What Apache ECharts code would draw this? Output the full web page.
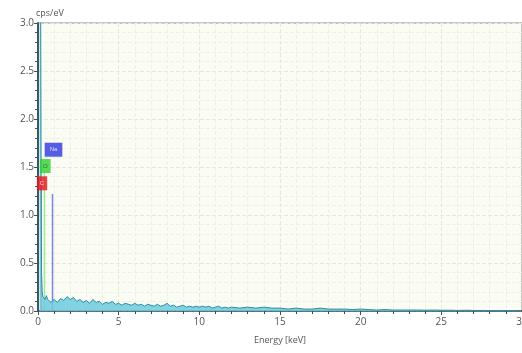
<!DOCTYPE html>
<html>
<head>
<meta charset="utf-8">
<script src="https://cdn.jsdelivr.net/npm/echarts@6/dist/echarts.min.js"></script>
<style>
  html, body { margin: 0; padding: 0; background: #fff; }
  #chart { width: 522px; height: 353px; }
</style>
</head>
<body>
<div id="chart"></div>
<script>
// spectrum channels (keV) and counts (cps/eV)
var energy = [
  0.10, 0.13, 0.16, 0.19, 0.22, 0.26, 0.30, 0.36, 0.44, 0.52, 0.60, 0.70, 0.80, 0.90, 1.00, 1.04, 1.10,
  1.2, 1.4, 1.6, 1.8, 2.0, 2.2, 2.4, 2.6, 2.8, 3.0, 3.2, 3.4, 3.6, 3.8, 4.0, 4.2, 4.4, 4.6, 4.8, 5.0,
  5.2, 5.4, 5.6, 5.8, 6.0, 6.2, 6.4, 6.6, 6.8, 7.0, 7.2, 7.4, 7.6, 7.8, 8.0, 8.2, 8.4, 8.6, 8.8, 9.0,
  9.2, 9.4, 9.6, 9.8, 10.0, 10.2, 10.4, 10.6, 10.8, 11.0, 11.2, 11.4, 11.6, 11.8, 12.0,
  12.5, 13, 13.5, 14, 14.5, 15, 15.5, 16, 16.5, 17, 17.5, 18, 18.5, 19, 19.5, 20,
  20.5, 21, 21.5, 22, 22.5, 23, 23.5, 24, 24.5, 25, 25.5, 26, 26.5, 27, 27.5, 28, 28.5, 29, 29.5, 29.8
];
var cps = [
  3.4, 3.6, 3.5, 1.6, 0.4, 0.2, 0.15, 0.13, 0.12, 0.16, 0.12, 0.1, 0.09, 0.1, 0.12, 0.14, 0.1,
  0.09, 0.13, 0.11, 0.15, 0.12, 0.14, 0.1, 0.12, 0.09, 0.11, 0.08, 0.12, 0.09, 0.1, 0.07, 0.09, 0.08, 0.1, 0.07, 0.08,
  0.06, 0.08, 0.07, 0.06, 0.08, 0.06, 0.07, 0.05, 0.07, 0.06, 0.05, 0.07, 0.05, 0.06, 0.08, 0.05, 0.06, 0.04, 0.05, 0.06,
  0.04, 0.05, 0.04, 0.05, 0.04, 0.05, 0.04, 0.05, 0.03, 0.04, 0.05, 0.03, 0.04, 0.03, 0.04,
  0.03, 0.04, 0.03, 0.04, 0.03, 0.03, 0.02, 0.03, 0.02, 0.02, 0.03, 0.02, 0.02, 0.02, 0.015, 0.02,
  0.015, 0.01, 0.015, 0.01, 0.01, 0.01, 0.01, 0.008, 0.01, 0.008, 0.008, 0.006, 0.008, 0.006, 0.006, 0.005, 0.005, 0.005, 0.004, 0.004
];

// element markers
var elements = ['C', 'O', 'Na'];
var elementEnergy = [0.2, 0.4, 0.9];
var elementHeight = [1.28, 1.45, 1.22];
var elementLabelX = [0.25, 0.45, 0.96];
var elementLabelY = [1.33, 1.51, 1.68];
var elementColor = ['#e8141b', '#2ed12e', '#2a34e0'];

var spectrum = [];
for (var i = 0; i < energy.length; i++) {
  spectrum.push([energy[i], cps[i]]);
}

var series = [];
for (var k = 0; k < elements.length; k++) {
  series.push({
    type: 'line',
    data: [[elementEnergy[k], 0], [elementEnergy[k], elementHeight[k]]],
    symbol: 'none',
    z: 3,
    lineStyle: { color: elementColor[k], width: 1.5, opacity: k == 1 ? 0.45 : 0.6 }
  });
}
series.push({
  type: 'line',
  data: spectrum,
  symbol: 'none',
  z: 4,
  lineStyle: { color: '#2c8ea6', width: 1 },
  areaStyle: { color: '#6ccbdd', opacity: 0.85 }
});
var labelData = [];
for (var k = 0; k < elements.length; k++) {
  labelData.push({
    value: [elementLabelX[k], elementLabelY[k]],
    label: {
      show: true,
      position: 'inside',
      formatter: elements[k],
      color: k == 1 ? '#1a5a1a' : '#fff',
      fontSize: 6,
      backgroundColor: elementColor[k],
      padding: k == 2 ? [4, 5] : [4, 3]
    }
  });
}
series.push({
  type: 'scatter',
  data: labelData,
  symbolSize: 0,
  z: 5
});

var myEchart = echarts.init(document.getElementById('chart'));
var option = {
  animation: false,
  grid: {
    left: 38, right: 0, top: 23, bottom: 42,
    outerBoundsMode: 'none',
    show: true,
    backgroundColor: '#fbfdf4',
    borderColor: '#8a8a8a',
    borderWidth: 1
  },
  xAxis: {
    type: 'value',
    min: 0, max: 30, interval: 5,
    name: 'Energy [keV]',
    nameLocation: 'middle',
    nameGap: 25,
    nameTextStyle: { color: '#555', fontSize: 9, fontFamily: 'Open Sans' },
    axisLine: { lineStyle: { color: '#3a4f5c', width: 1.5 } },
    axisTick: { length: 4, lineStyle: { color: '#3a4f5c' } },
    minorTick: { show: true, splitNumber: 5, length: 3, lineStyle: { color: '#3a4f5c' } },
    axisLabel: { color: '#555', fontSize: 10, fontFamily: 'Open Sans', margin: 6 },
    splitLine: { lineStyle: { color: '#e2eadb', type: 'dashed' } },
    minorSplitLine: { show: true, lineStyle: { color: '#edf2e8', type: 'dashed' } }
  },
  yAxis: {
    type: 'value',
    min: 0, max: 3, interval: 0.5,
    name: 'cps/eV',
    nameLocation: 'end',
    nameGap: 3,
    nameTextStyle: { color: '#555', fontSize: 9, fontFamily: 'Open Sans', align: 'left', padding: [0, 0, 0, -2] },
    axisLine: { show: true, lineStyle: { color: '#3a5566', width: 2 } },
    axisTick: { length: 4, lineStyle: { color: '#3a5566' } },
    minorTick: { show: true, splitNumber: 5, length: 3, lineStyle: { color: '#3a5566' } },
    axisLabel: {
      color: '#555', fontSize: 10, fontFamily: 'Open Sans', margin: 4,
      formatter: function (v) { return v.toFixed(1); }
    },
    splitLine: { lineStyle: { color: '#e2eadb', type: 'dashed' } },
    minorSplitLine: { show: true, lineStyle: { color: '#edf2e8', type: 'dashed' } }
  },
  series: series
};
myEchart.setOption(option);
</script>
</body>
</html>
